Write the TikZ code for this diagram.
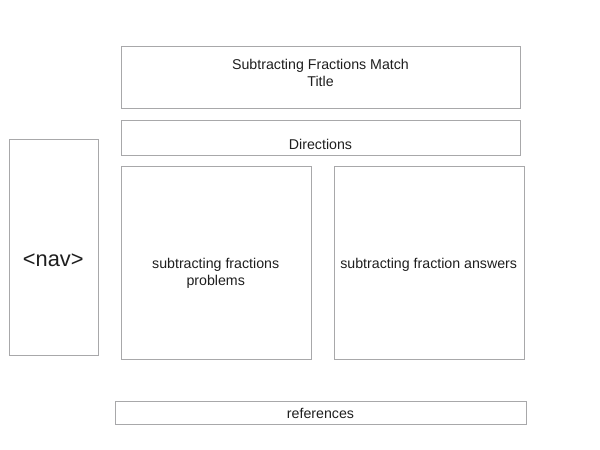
\documentclass[tikz,border=0pt]{standalone}
\usepackage{fontspec}
\setmainfont{Liberation Sans}
\begin{document}
\begin{tikzpicture}[x=1pt,y=-1pt,
  box/.style={draw=boxgray, line width=1.1pt, inner sep=0pt, anchor=north west},
  lbl/.style={text=textgray, font=\fontsize{14.2}{17}\selectfont, align=center, inner sep=0pt},
  biglbl/.style={text=textgray, font=\fontsize{21.8}{26}\selectfont, inner sep=0pt}]
\definecolor{boxgray}{RGB}{168,168,170}
\definecolor{textgray}{RGB}{30,30,30}
\useasboundingbox (0,0) rectangle (600,450);
\node[box, minimum width=399pt, minimum height=62.5pt] (title) at (121,45.7) {};
\node[box, minimum width=399pt, minimum height=35pt] (dir) at (121,119.5) {};
\node[box, minimum width=89.5pt, minimum height=216pt] (nav) at (8.5,138.5) {};
\node[box, minimum width=190.5pt, minimum height=193pt] (prob) at (120.5,166) {};
\node[box, minimum width=190.5pt, minimum height=193pt] (ans) at (333.5,166) {};
\node[box, minimum width=411.5pt, minimum height=23.3pt] (refs) at (114.7,401) {};
\node[lbl] (titletext) at (320.5,72.5) {Subtracting Fractions Match\\Title};
\node[lbl] (dirtext) at (320.5,144.3) {Directions};
\node[biglbl] (navtext) at (53.3,260.5) {<nav>};
\node[lbl] (probtext) at (215.7,273.2) {subtracting fractions\\problems};
\node[lbl] (anstext) at (428.7,264.8) {subtracting fraction answers};
\node[lbl] (refstext) at (320.5,413.3) {references};
\end{tikzpicture}
\end{document}
